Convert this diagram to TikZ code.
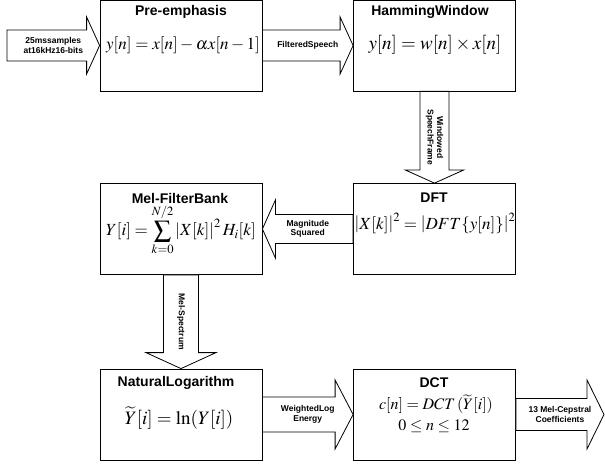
\documentclass[tikz,border=0pt]{standalone}
\usepackage{mathptmx}
\usepackage[no-math]{fontspec}
\setmainfont{Liberation Serif}
\setsansfont{Liberation Sans}
\usetikzlibrary{calc, positioning}

\tikzset{
  stage/.style={draw, fill=white, line width=0.8pt, minimum width=162pt, minimum height=91pt, inner sep=0pt},
  title/.style={font=\sffamily\bfseries\fontsize{14}{16}\selectfont, inner sep=0pt},
  eqn/.style={font=\fontsize{17}{19}\selectfont, inner sep=0pt, align=center},
  blockarrow/.style={draw, fill=white, line width=0.8pt, line join=miter},
  arrowlabel/.style={font=\sffamily\bfseries\fontsize{8.5}{9.5}\selectfont, align=center, inner sep=0pt}
}

% hollow block arrow: tail, tip, half body, half head, head length
\newcommand{\blockarrow}[5]{%
  \coordinate (ba) at ($(#2)!#5!(#1)$);
  \draw[blockarrow] ($(#1)!#3!90:(#2)$) -- ($(ba)!#3!90:(#2)$) -- ($(ba)!#4!90:(#2)$)
    -- (#2) -- ($(ba)!#4!-90:(#2)$) -- ($(ba)!#3!-90:(#2)$) -- ($(#1)!#3!-90:(#2)$) -- cycle;}

\begin{document}
\begin{tikzpicture}[x=1pt, y=-1pt]
  \useasboundingbox (0,0) rectangle (605,465);

  % stages
  \node[stage] (pre) at (181,45.5) {};
  \node[stage] (ham) at (434.5,45.5) {};
  \node[stage] (dft) at (434.5,229) {};
  \node[stage] (mel) at (181,229) {};
  \node[stage] (nlog) at (181,414.5) {};
  \node[stage] (dct) at (434.5,414.5) {};

  \node[title] (pre-t) at (181,12) {Pre-emphasis};
  \node[eqn] (pre-e) at (183,45) {$y[n]=x[n]-\alpha x[n-1]$};
  \node[title] (ham-t) at (430,12) {HammingWindow};
  \node[eqn, font=\fontsize{19}{21}\selectfont] (ham-e) at (435,45) {$y[n]=w[n]\times x[n]$};
  \node[title] (dft-t) at (434,198) {DFT};
  \node[eqn] (dft-e) at (435,223) {$\left|X[k]\right|^2=\left|DFT\{y[n]\}\right|^2$};
  \node[title] (mel-t) at (180,198) {Mel-FilterBank};
  \node[eqn] (mel-e) at (181,230) {$\displaystyle Y[i]=\sum_{k=0}^{N/2}\left|X[k]\right|^2H_i[k]$};
  \node[title] (nlog-t) at (176,383) {NaturalLogarithm};
  \node[eqn, font=\fontsize{19}{21}\selectfont] (nlog-e) at (179,418) {$\widetilde{Y}[i]=\ln(Y[i])$};
  \node[title] (dct-t) at (434,383) {DCT};
  \node[eqn, font=\fontsize{16}{18}\selectfont] (dct-e) at (436,404) {$c[n]=DCT\,(\widetilde{Y}[i])$};
  \node[eqn, font=\fontsize{16}{18}\selectfont] (dct-r) at (434,426) {$0\le n\le 12$};

  % arrows
  \coordinate (in) at (7,45.5);
  \coordinate (out) at (604,414.5);
  \blockarrow{in}{pre.west}{15.5pt}{28.5pt}{13pt}
  \blockarrow{pre.east}{ham.west}{15.5pt}{28.5pt}{13pt}
  \blockarrow{ham.south}{dft.north}{14.5pt}{29pt}{13pt}
  \blockarrow{dft.west}{mel.east}{14.5pt}{29pt}{13pt}
  \blockarrow{mel.south}{nlog.north}{17.5pt}{35pt}{16pt}
  \blockarrow{nlog.east}{dct.west}{17.5pt}{34.5pt}{18pt}
  \blockarrow{dct.east}{out}{16pt}{34.5pt}{17pt}

  \node[arrowlabel] (in-l) at ($(in)!0.5!(pre.west)$) {25mssamples\\at16kHz16-bits};
  \node[arrowlabel] (filt-l) at ($(pre.east)!0.5!(ham.west)$) {FilteredSpeech};
  \node[arrowlabel, rotate=-90] (win-l) at ($(ham.south)!0.5!(dft.north)$) {Windowed\\SpeechFrame};
  \node[arrowlabel] (mag-l) at ($(dft.west)!0.5!(mel.east)$) {Magnitude\\Squared};
  \node[arrowlabel, rotate=-90] (spec-l) at ($(mel.south)!0.5!(nlog.north)$) {Mel-Spectrum};
  \node[arrowlabel] (log-l) at ($(nlog.east)!0.5!(dct.west)$) {WeightedLog\\Energy};
  \node[arrowlabel] (out-l) at ($(dct.east)!0.5!(out)$) {13 Mel-Cepstral\\Coefficients};
\end{tikzpicture}
\end{document}
